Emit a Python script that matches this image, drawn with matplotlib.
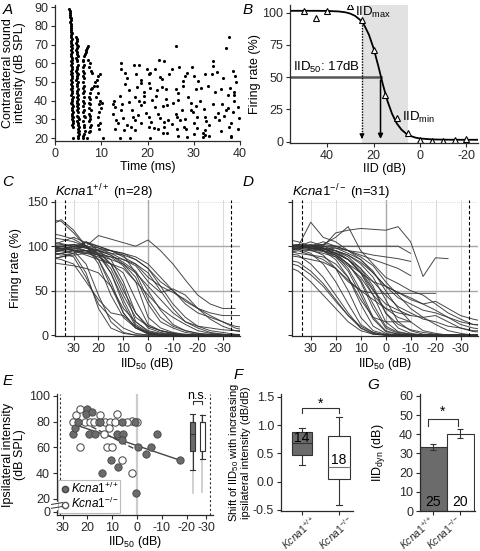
import numpy as np
import matplotlib
matplotlib.use("Agg")
import matplotlib.pyplot as plt
from matplotlib.lines import Line2D
from matplotlib.ticker import FormatStrFormatter
from matplotlib.transforms import ScaledTranslation

plt.rcParams['font.family'] = ['Liberation Sans', 'DejaVu Sans']
plt.rcParams['mathtext.fontset'] = 'custom'
plt.rcParams['mathtext.rm'] = 'Liberation Sans'
plt.rcParams['mathtext.it'] = 'Liberation Sans:italic'
plt.rcParams['font.size'] = 9
plt.rcParams['axes.unicode_minus'] = False
plt.rcParams['axes.linewidth'] = 0.9
plt.rcParams['axes.edgecolor'] = '#2a2a2a'
plt.rcParams['xtick.color'] = '#2a2a2a'
plt.rcParams['ytick.color'] = '#2a2a2a'
plt.rcParams['xtick.major.size'] = 3
plt.rcParams['ytick.major.size'] = 3
plt.rcParams['xtick.major.pad'] = 2
plt.rcParams['ytick.major.pad'] = 2

# ---------------- data ----------------
# A: raster (time ms, contralateral dB SPL)
spikes_col1 = [(3.1, 89), (3.2, 88), (3.2, 87), (3.3, 86), (3.3, 85), (3.4, 84), (3.4, 83), (3.3, 82), (3.5, 81), (3.4, 80),
               (3.5, 79), (3.5, 78), (3.4, 77), (3.6, 76), (3.5, 75), (3.5, 74), (3.6, 73), (3.4, 72), (3.5, 71), (3.6, 70),
               (3.5, 69), (3.7, 68), (3.5, 67), (3.6, 66), (3.4, 65), (3.5, 64), (3.6, 63), (3.7, 62), (3.5, 61), (3.6, 60),
               (3.4, 59), (3.6, 58), (3.7, 57), (3.5, 56), (3.6, 55), (3.5, 54), (3.7, 53), (3.6, 52), (3.4, 51), (3.6, 50),
               (3.5, 49), (3.7, 48), (3.6, 47), (3.5, 46), (3.7, 45), (3.6, 44), (3.5, 43), (3.8, 42), (3.6, 41), (3.7, 40),
               (3.5, 39), (3.6, 38), (3.8, 37), (3.7, 36), (3.6, 35), (3.8, 34), (3.7, 33), (3.6, 32), (3.8, 31), (3.7, 30),
               (3.9, 29), (3.8, 28), (3.7, 27), (3.9, 26), (3.9, 20)]
spikes_col2 = [(4.6, 74), (4.7, 73), (4.8, 72), (4.6, 71), (4.7, 70), (4.9, 69), (4.7, 68), (4.6, 67), (4.8, 66), (4.7, 65),
               (4.9, 64), (4.6, 63), (4.8, 62), (4.7, 61), (4.9, 59), (4.7, 58), (4.8, 57), (4.6, 56), (4.8, 55), (4.9, 54),
               (4.7, 53), (4.8, 52), (4.6, 51), (4.9, 50), (4.7, 49), (4.8, 48), (4.9, 46), (4.7, 45), (4.8, 44), (5.0, 43),
               (4.7, 42), (4.9, 41), (4.8, 40), (4.7, 39), (5.0, 38), (4.8, 37), (4.9, 36), (4.7, 35), (5.0, 34), (4.8, 32),
               (4.9, 31), (5.1, 30), (4.8, 29), (5.0, 28), (4.9, 27), (5.1, 26), (4.9, 25), (5.2, 24), (5.0, 23), (5.1, 22),
               (5.0, 21), (5.0, 20)]
spikes_col3 = [(7.2, 69), (7.0, 68), (6.8, 67), (6.6, 66), (6.4, 65), (6.2, 64), (6.1, 62), (6.0, 61), (6.2, 59), (6.0, 58),
               (6.1, 56), (6.3, 55), (6.0, 53), (6.2, 52), (6.1, 50), (6.3, 48), (6.0, 47), (6.2, 45), (6.1, 44), (6.3, 42),
               (6.0, 40), (6.2, 39), (6.1, 37), (6.3, 35), (6.0, 34), (6.2, 32), (6.4, 31), (6.1, 29), (6.3, 27), (6.2, 26),
               (6.4, 24), (6.2, 22), (6.1, 21), (6.1, 20)]
spikes_col4 = [(9.7, 54), (9.4, 53), (9.0, 51), (8.6, 50), (8.4, 48), (8.0, 47), (7.7, 46), (7.5, 44), (7.4, 42), (7.6, 41),
               (7.3, 39), (7.5, 38), (7.4, 36), (7.7, 35), (7.3, 33), (7.5, 32), (7.6, 30), (7.4, 29), (7.7, 27), (7.5, 26),
               (7.6, 24), (7.4, 23), (7.0, 20), (7.5, 60), (7.3, 58), (7.7, 56), (8.1, 55), (7.2, 62)]
spikes_col5 = [(9.8, 40), (10.2, 39), (9.6, 38), (10.0, 36), (9.5, 34), (9.3, 31), (9.8, 28), (9.2, 27), (9.5, 25),
               (10.4, 20), (9.0, 48), (9.3, 44), (8.8, 42)]
spikes_late = [(37.7, 74), (26.1, 69), (36.9, 68), (22.5, 62), (23.6, 61), (14.2, 60), (17.1, 59), (18.2, 59), (34.1, 61), (34.1, 58.5),
               (21.6, 57), (29.7, 58), (26.8, 58), (14.2, 57), (38.5, 56), (20.5, 55), (20.4, 54), (24.7, 54.5), (32.4, 54), (33.9, 54),
               (17.5, 54), (15.5, 52), (28.1, 53), (30.0, 53), (36.3, 52), (38.9, 53), (18.7, 51), (18.7, 49.5), (27.7, 50.5), (27.7, 48),
               (23.1, 51.5), (23.1, 47.5), (20.3, 49.5), (20.6, 47), (39.2, 50), (15.1, 49), (16.0, 45.5), (26.2, 46.5), (24.1, 46.5), (30.4, 46),
               (31.6, 47), (34.6, 44.5), (37.3, 43), (38.8, 44.5), (19.3, 44.5), (19.3, 42.5), (22.0, 45.5), (26.7, 44), (26.7, 40.5), (17.3, 42),
               (18.2, 40), (19.3, 39.5), (21.0, 40.5), (29.5, 38.5), (30.5, 37), (31.4, 40), (34.2, 38), (36.0, 38), (38.7, 40), (38.7, 43),
               (37.3, 36), (16.0, 39.5), (14.4, 38), (18.5, 37.5), (21.6, 36.5), (23.4, 37), (24.3, 37.5), (27.4, 35), (29.3, 35), (32.3, 35.5),
               (35.2, 33.5), (37.0, 35), (14.3, 35), (16.6, 35), (19.6, 33.5), (20.3, 31), (22.3, 33), (26.2, 33), (26.4, 31.5), (29.9, 34),
               (30.6, 31), (34.6, 31), (36.6, 32), (38.4, 34), (13.2, 29.5), (14.8, 30.5), (17.3, 29.5), (18.5, 28), (20.8, 28.5), (23.6, 28.5),
               (24.4, 29.5), (27.0, 29.5), (28.0, 30), (30.1, 28), (32.4, 31), (32.6, 29), (33.4, 27), (35.5, 29.5), (38.0, 28), (13.7, 28),
               (15.5, 27), (16.5, 26), (20.3, 26), (21.5, 25.5), (23.6, 26), (26.4, 25), (27.8, 26), (28.4, 25), (32.4, 24.5), (37.6, 26),
               (15.0, 24.5), (17.4, 24.5), (22.2, 25), (24.2, 22.5), (30.6, 25.5), (32.1, 22.5), (33.2, 21), (38.0, 21), (38.0, 20.5), (14.1, 20),
               (16.2, 20), (20.5, 20), (23.3, 22.5), (26.7, 21), (28.6, 20.5), (31.9, 20.5), (32.5, 21.5), (39.6, 25), (12.8, 40), (13.0, 36.5),
               (13.0, 25), (12.5, 33), (12.6, 38), (25.5, 39), (28.8, 42), (33.0, 48), (35.8, 46), (24.0, 41), (21.8, 42.5), (17.8, 47.5),
               (15.2, 55), (19.8, 57), (22.8, 52.5), (25.2, 57), (28.5, 55), (31.0, 50.5), (35.0, 55.5), (37.8, 47), (39.5, 36.5), (39.8, 30.5),
               (35.8, 24), (30.0, 22), (25.3, 27.5), (22.6, 30.5), (18.0, 32.5), (16.8, 31.5), (14.0, 42.5)]

# B: example rate-IID function
b_iid = [50, 45, 40, 30, 25, 20, 15, 10, 5, 0, -5, -10, -15, -20]
b_rate = [101, 96, 101, 105, 94, 71, 36, 18, 7, 1, 0.5, 0.5, 1.5, 2]
b_fit_iid = [56, 50, 45, 40, 35, 32, 30, 28, 26, 24, 22, 20, 18, 16, 14, 12, 10, 8, 6, 4, 2, 0, -5, -10, -15, -20, -25]
b_fit_rate = [101.5, 101.5, 101.5, 101.4, 101.0, 100.3, 99.3, 97.6, 94.8, 90.3, 83.0, 72.5, 59.0, 44.5, 31.5, 21.5,
              14.2, 9.4, 6.3, 4.4, 3.2, 2.5, 1.8, 1.6, 1.5, 1.5, 1.5]
b_iid50 = 17
b_iid_max = 25
b_iid_min = 5

# C / D: normalised rate-IID functions
nan = np.nan
iid_grid = [40, 35, 30, 25, 20, 15, 10, 5, 0, -5, -10, -15, -20, -25, -30, -35, -40]
wt_curves = [
    [100, 97, 95, 80, 45, 15, 3, 0, 0, 0, 0, 0, 0, 0, 0, 0, 0],
    [95, 95, 92, 70, 30, 8, 2, 0, 0, 0, 0, 0, 0, 0, 0, 0, 0],
    [90, 92, 88, 65, 35, 20, 8, 2, 0, 0, 0, 0, 0, 0, 0, 0, 0],
    [88, 85, 80, 60, 40, 25, 22, 10, 2, 0, 0, 0, 0, 0, 0, 0, 0],
    [130, 128, 115, 100, 85, 55, 25, 8, 2, 0, 0, 0, 0, 0, 0, 0, 0],
    [122, 130, 118, 100, 92, 70, 40, 12, 3, 0, 0, 0, 0, 0, 0, 0, 0],
    [100, 100, 98, 95, 90, 70, 35, 10, 2, 0, 0, 0, 0, 0, 0, 0, 0],
    [98, 97, 100, 95, 85, 60, 25, 8, 1, 0, 0, 0, 0, 0, 0, 0, 0],
    [95, 100, 102, 98, 92, 80, 55, 15, 4, 1, 0, 0, 0, 0, 0, 0, 0],
    [92, 95, 97, 100, 95, 85, 60, 25, 8, 3, 1, 0, 0, 0, 0, 0, 0],
    [105, 103, 100, 100, 90, 75, 45, 20, 10, 5, 2, 0, 0, 0, 0, 0, 0],
    [90, 92, 95, 92, 88, 80, 70, 40, 12, 5, 2, 0, 0, 0, 0, 0, 0],
    [100, 98, 95, 95, 92, 88, 78, 60, 20, 8, 3, 1, 0, 0, 0, 0, 0],
    [85, 88, 92, 95, 95, 90, 80, 65, 35, 15, 8, 3, 1, 0, 0, 0, 0],
    [100, 102, 100, 98, 95, 90, 82, 72, 50, 28, 12, 5, 2, 1, 0, 0, 0],
    [110, 108, 105, 100, 98, 95, 88, 80, 70, 50, 30, 15, 8, 3, 1, 0, 0],
    [95, 96, 98, 105, 100, 95, 92, 88, 80, 65, 50, 35, 25, 20, 15, 8, 5],
    [100, 100, 102, 100, 112, 108, 104, 100, 107, 95, 80, 62, 45, 35, 30, 30, nan],
    [95, 97, 100, 98, 96, 95, 92, 85, 75, 60, 50, 38, 30, 25, 22, 22, 22],
    [90, 92, 95, 93, 90, 88, 85, 80, 65, 55, 48, 40, 30, 22, 15, 10, 8],
    [85, 88, 90, 92, 95, 92, 90, 85, 75, 55, 35, 20, 10, 5, 3, 1, 0],
    [92, 95, 100, 104, 98, 92, 85, 78, 60, 48, 52, 45, 30, 18, 10, 5, 2],
    [98, 100, 95, 90, 85, 80, 75, 60, 45, 30, 20, 12, 5, 2, 1, 0, 0],
    [82, 80, 78, 75, 70, 55, 30, 15, 5, 2, 1, 0, 0, 0, 0, 0, 0],
    [115, 112, 108, 100, 80, 45, 20, 8, 3, 1, 0, 0, 0, 0, 0, 0, 0],
    [100, 105, 110, 104, 100, 95, 90, 70, 40, 20, 10, 5, 2, 0, 0, 0, 0],
    [97, 98, 96, 95, 90, 85, 80, 70, 55, 40, 25, 15, 10, 8, 6, 5, 5],
    [93, 90, 92, 105, 95, 80, 50, 25, 10, 5, 2, 0, 0, 0, 0, 0, 0],
]
ko_curves = [
    [92, 90, 80, 65, 45, 25, 8, 1, 0, 0, 0, 0, 0, 0, 0, 0, 0],
    [85, 82, 72, 58, 40, 22, 8, 2, 0, 0, 0, 0, 0, 0, 0, 0, 0],
    [100, 97, 92, 80, 60, 35, 12, 3, 0, 0, 0, 0, 0, 0, 0, 0, 0],
    [98, 98, 96, 90, 75, 50, 20, 5, 1, 0, 0, 0, 0, 0, 0, 0, 0],
    [100, 100, 98, 95, 85, 65, 35, 10, 2, 0, 0, 0, 0, 0, 0, 0, 0],
    [97, 98, 100, 98, 90, 75, 50, 20, 5, 1, 0, 0, 0, 0, 0, 0, 0],
    [100, 102, 100, 98, 92, 80, 60, 30, 8, 2, 0, 0, 0, 0, 0, 0, 0],
    [95, 97, 100, 100, 95, 85, 70, 45, 15, 4, 1, 0, 0, 0, 0, 0, 0],
    [100, 100, 98, 97, 95, 88, 75, 55, 25, 8, 2, 0, 0, 0, 0, 0, 0],
    [103, 100, 100, 98, 95, 90, 80, 65, 40, 15, 5, 1, 0, 0, 0, 0, 0],
    [98, 100, 102, 100, 98, 92, 85, 72, 50, 30, 15, 5, 2, 0, 0, 0, 0],
    [95, 98, 100, 102, 100, 95, 88, 78, 60, 45, 30, 20, 12, 5, 2, 0, 0],
    [100, 100, 127, 110, 105, 95, 85, 70, 55, 48, 40, 35, 28, 20, 12, 8, 6],
    [108, 105, 100, 102, 110, 122, 95, 80, 65, 58, 50, 45, 35, 25, 18, 12, 10],
    [100, 100, 105, 100, 115, 118, 120, 119, 118, 122, 105, 66, 87, 86, nan, nan, nan],
    [100, 100, 100, 100, 100, 100, 100, 100, 100, 100, 92, nan, nan, nan, nan, nan, nan],
    [95, 97, 100, 105, 100, 95, 90, 85, 80, 75, 67, nan, nan, nan, nan, nan, nan],
    [98, 100, 98, 96, 98, 95, 93, 90, 88, 86, 83, nan, nan, nan, nan, nan, nan],
    [90, 88, 85, 82, 75, 62, 50, 40, 30, 25, 22, nan, nan, nan, nan, nan, nan],
    [92, 95, 90, 88, 80, 65, 40, 20, 15, 15, 15, nan, nan, nan, nan, nan, nan],
    [95, 92, 90, 85, 75, 60, 50, 47, 47, 47, 47, 47, 47, nan, nan, nan, nan],
    [100, 100, 98, 95, 90, 80, 70, 60, 55, 48, 42, 35, 38, 30, 22, 18, 15],
    [96, 98, 100, 98, 95, 90, 82, 70, 55, 42, 35, 28, 25, 20, 15, 12, 12],
    [99, 100, 97, 95, 92, 85, 75, 60, 45, 32, 25, 18, 15, 10, 8, 5, 5],
    [82, 78, 68, 55, 38, 22, 10, 3, 0, 0, 0, 0, 0, 0, 0, 0, 0],
    [78, 72, 60, 45, 30, 15, 5, 1, 0, 0, 0, 0, 0, 0, 0, 0, 0],
    [100, 99, 98, 95, 88, 72, 45, 18, 4, 1, 0, 0, 0, 0, 0, 0, 0],
    [97, 98, 96, 94, 90, 80, 62, 35, 10, 3, 1, 0, 0, 0, 0, 0, 0],
    [100, 102, 100, 97, 92, 85, 72, 52, 25, 12, 6, 3, 1, 0, 0, 0, 0],
    [95, 96, 95, 92, 88, 78, 65, 45, 30, 20, 15, nan, nan, nan, nan, nan, nan],
    [98, 100, 99, 97, 93, 85, 70, 50, 35, 28, 22, 20, 22, 15, 8, 4, 3],
]

# E: IID50 vs ipsilateral intensity
e_wt_iid = [26, 25, 24, 20, 20.5, 18, 19.5, 17, 15, 14, 10.5, 7.5, 8, 6, 5.5, 6, 1, 0.5, -0.5, -3.5, -5.5, -8, -17.5]
e_wt_int = [70, 75, 80, 90, 86, 87, 70, 70, 80, 40, 50, 45, 70, 80, 70, 66, 80, 25, 60, 55, 60, 70, 50]
e_ko_iid = [26, 24.5, 23, 23, 21, 19, 17.5, 15.5, 15, 13, 11, 9, 8, 11.5, 13.5, 12, 10, 6, 2, 2, 0, 4]
e_ko_int = [80, 85, 90, 60, 80, 80, 80, 80, 85, 80, 80, 80, 85.5, 75, 70, 60, 60, 50, 40, 80.5, 80, 80]
e_wt_fit_x = [25.7, -17.4]
e_wt_fit_y = [78, 50]
e_ko_fit_x = [24.4, 1.5]
e_ko_fit_y = [82, 59.3]
e_box_q1 = [57, 57]
e_box_med = [70, 79.5]
e_box_q3 = [80, 80]
e_box_lo = [42.5, 50.7]
e_box_hi = [85.6, 85]
e_range_lo = [24.5, 25.5]

# F: shift of IID50 (dB/dB)
f_q1 = [0.477, 0.05]
f_med = [0.69, 0.26]
f_q3 = [0.886, 0.80]
f_lo = [0.30, -0.42]
f_hi = [0.945, 1.14]
f_n = [14, 18]

# G: dynamic range
g_mean = [33.4, 40.3]
g_sem = [1.7, 2.2]
g_n = [25, 20]

genotypes = [r'$\mathit{Kcna1}^{+/+}$', r'$\mathit{Kcna1}^{-/-}$']

dark = '#6b6b6b'

fig = plt.figure(figsize=(4.8, 5.51), dpi=100)


def ax_at(l, t, r, b):
    return fig.add_axes([l / 480, 1 - b / 551, (r - l) / 480, (b - t) / 551])


def clean(ax):
    ax.spines['top'].set_visible(False)
    ax.spines['right'].set_visible(False)


# ---------------- A ----------------
axA = ax_at(55, 5, 240, 141)
clean(axA)
all_spikes = spikes_col1 + spikes_col2 + spikes_col3 + spikes_col4 + spikes_col5 + spikes_late
t_sp, db_sp = zip(*all_spikes)
axA.scatter(t_sp, db_sp, s=5, color='black', linewidths=0)
axA.set_xlim(0, 40)
axA.set_ylim(18.4, 91.2)
axA.set_xticks([0, 10, 20, 30, 40])
axA.set_yticks([20, 30, 40, 50, 60, 70, 80, 90])
axA.set_xlabel('Time (ms)', labelpad=1)
axA.set_ylabel('Contralateral sound\nintensity (dB SPL)', labelpad=6, linespacing=1.0)

# ---------------- B ----------------
axB = ax_at(290, 5, 478, 143)
clean(axB)
axB.axvspan(b_iid_max, b_iid_min, color='#e2e2e2', lw=0)
axB.plot([56, b_iid50], [50, 50], color='#555555', lw=1.8)
axB.plot(b_fit_iid, b_fit_rate, color='black', lw=1.3)
axB.plot([b_iid_max, b_iid_max], [93, 5], color='black', lw=1.0, ls=(0, (1, 1)))
axB.annotate('', xy=(b_iid_max, 0), xytext=(b_iid_max, 6),
             arrowprops=dict(arrowstyle='-|>', color='black', lw=0.8, mutation_scale=7))
axB.annotate('', xy=(b_iid50, 0), xytext=(b_iid50, 50),
             arrowprops=dict(arrowstyle='-|>', color='black', lw=1.1, mutation_scale=7))
axB.plot(b_iid, b_rate, ls='none', marker='^', ms=4.5, mfc='white', mec='black', mew=0.8)
axB.text(54.5, 51.5, r'IID$_{50}$: 17dB', fontsize=9.5, ha='left', va='bottom')
axB.text(28.0, 100.5, r'IID$_{\rm max}$', fontsize=9.5, ha='left', va='center')
axB.text(7.6, 19, r'IID$_{\rm min}$', fontsize=9.5, ha='left', va='center')
axB.set_xlim(56, -25)
axB.set_ylim(-1, 106)
axB.set_xticks([40, 20, 0, -20])
axB.set_yticks([0, 25, 50, 75, 100])
axB.set_xlabel('IID (dB)', labelpad=1)
axB.set_ylabel('Firing rate (%)', labelpad=1)


# ---------------- C / D ----------------
def rate_panel(ax, curves, show_ylabels):
    clean(ax)
    for xv in [30, 20, 10, -10, -20, -30]:
        ax.axvline(xv, color='#dcdcdc', lw=0.8, zorder=0)
    ax.axvline(0, color='#a8a8a8', lw=1.0, zorder=0)
    for yv in [50, 100]:
        ax.axhline(yv, color='#a8a8a8', lw=1.0, zorder=0)
    ax.axhline(150, color='#d0d0d0', lw=0.6, ls=(0, (1, 1.5)), zorder=0)
    for xv in [33.5, -33.5]:
        ax.axvline(xv, color='black', lw=0.8, ls=(0, (3, 2)), zorder=3)
    for c in curves:
        ax.plot(iid_grid, c, color='#333333', lw=0.7, alpha=0.9)
    ax.set_xlim(37.5, -37)
    ax.set_ylim(-1, 152)
    ax.set_xticks([30, 20, 10, 0, -10, -20, -30])
    ax.set_yticks([0, 50, 100, 150])
    if not show_ylabels:
        ax.set_yticklabels([])
    ax.set_xlabel(r'IID$_{50}$ (dB)', labelpad=1)


axC = ax_at(55, 200, 240, 336)
rate_panel(axC, wt_curves, True)
axC.set_ylabel('Firing rate (%)', labelpad=4)
axC.text(0.0, 1.06, genotypes[0] + ' (n=28)', transform=axC.transAxes, ha='left', va='center', fontsize=9.5)

axD = ax_at(292, 200, 478, 336)
rate_panel(axD, ko_curves, False)
axD.text(0.0, 1.06, genotypes[1] + ' (n=31)', transform=axD.transAxes, ha='left', va='center', fontsize=9.5)

# ---------------- E ----------------
axE = ax_at(57, 394, 213, 515)
clean(axE)
axE.axvline(0, color='#cccccc', lw=1.6, zorder=0)
for xv in [31.0, -29.5]:
    axE.axvline(xv, color='#333333', lw=0.8, ls=(0, (2, 2)), zorder=0)
for pos, lo in zip([-22.6, -26.3], e_range_lo):
    axE.plot([pos, pos], [lo, 85], color='#c8c8c8', lw=1.2, zorder=1)
axE.plot(e_wt_fit_x, e_wt_fit_y, color='#444444', lw=1.0, zorder=2)
axE.plot(e_ko_fit_x, e_ko_fit_y, color='#444444', lw=1.0, ls=(0, (4, 2)), zorder=2)
axE.scatter(e_ko_iid, e_ko_int, s=28, facecolor='white', edgecolor='#555555', linewidths=0.8, zorder=3)
axE.scatter(e_wt_iid, e_wt_int, s=28, facecolor=dark, edgecolor='#444444', linewidths=0.6, zorder=4)
e_stats = []
for i in range(2):
    e_stats.append(dict(med=e_box_med[i], q1=e_box_q1[i], q3=e_box_q3[i],
                        whislo=e_box_lo[i], whishi=e_box_hi[i], fliers=[]))
bpE = axE.bxp(e_stats, positions=[-22.6, -26.3], widths=2.0, patch_artist=True,
              manage_ticks=False, capwidths=2.0,
              boxprops=dict(edgecolor='#333333', lw=0.8),
              whiskerprops=dict(color='#333333', lw=0.8),
              capprops=dict(color='#333333', lw=0.8),
              medianprops=dict(color='#333333', lw=0.8))
bpE['boxes'][0].set_facecolor(dark)
bpE['boxes'][1].set_facecolor('white')
axE.plot([-22.6, -22.6, -26.3, -26.3], [93.5, 95.5, 95.5, 93.5], color='#333333', lw=0.8)
axE.text(-24.45, 99.5, 'n.s.', ha='center', va='center', fontsize=9)
axE.set_xlim(32.3, -30.7)
axE.set_ylim(7.6, 101.3)
axE.set_xticks([30, 20, 10, 0, -10, -20, -28])
axE.set_xticklabels(['30', '20', '10', '0', '-10', '-20', '-30'])
axE.set_yticks([10, 20, 40, 60, 80, 100])
axE.set_yticklabels(['0', '20', '40', '60', '80', '100'])
# axis break
brk = axE.get_yaxis_transform()
axE.plot([0, 0], [13.3, 16.7], transform=brk, color='white', lw=2.5, clip_on=False, zorder=5)
axE.plot([-0.035, 0.035], [12.8, 14.2], transform=brk, color='#333333', lw=0.7, clip_on=False, zorder=6)
axE.plot([-0.035, 0.035], [15.8, 17.2], transform=brk, color='#333333', lw=0.7, clip_on=False, zorder=6)
axE.set_xlabel(r'IID$_{50}$ (dB)', labelpad=0)
axE.set_ylabel('Ipsilateral intensity\n(dB SPL)', labelpad=2, linespacing=1.0)
legE = axE.legend(handles=[Line2D([], [], ls='none', marker='o', ms=4.5, mfc=dark, mec='#444444'),
                           Line2D([], [], ls='none', marker='o', ms=4.5, mfc='white', mec='#555555')],
                  labels=genotypes, loc='lower left', bbox_to_anchor=(0.005, 0.02), fontsize=8.5,
                  frameon=True, fancybox=False, edgecolor='#bbbbbb', framealpha=1,
                  borderpad=0.1, handletextpad=0.0, labelspacing=0.0, handlelength=1.0,
                  borderaxespad=0.0, handleheight=0.5)
legE.get_frame().set_linewidth(0.8)

# ---------------- F ----------------
axF = ax_at(281, 394, 353, 511)
clean(axF)
f_stats = []
for i in range(2):
    f_stats.append(dict(med=f_med[i], q1=f_q1[i], q3=f_q3[i], whislo=f_lo[i], whishi=f_hi[i], fliers=[]))
bpF = axF.bxp(f_stats, positions=[1, 2], widths=[0.52, 0.62], patch_artist=True,
              capwidths=[0.15, 0.15],
              boxprops=dict(edgecolor='#333333', lw=0.8),
              whiskerprops=dict(color='#333333', lw=0.8),
              capprops=dict(color='#333333', lw=0.8),
              medianprops=dict(color='#333333', lw=0.8))
bpF['boxes'][0].set_facecolor(dark)
bpF['boxes'][1].set_facecolor('white')
bpF['medians'][1].set_color('#777777')
axF.text(1, 0.77, str(f_n[0]), ha='center', va='center', fontsize=10)
axF.text(2, 0.39, str(f_n[1]), ha='center', va='center', fontsize=10)
axF.plot([1, 1, 2, 2], [1.21, 1.30, 1.30, 1.21], color='#333333', lw=0.8)
axF.text(1.5, 1.37, '*', ha='center', va='center', fontsize=10)
axF.set_xlim(0.43, 2.38)
axF.set_ylim(-0.52, 1.55)
axF.set_yticks([-0.5, 0.0, 0.5, 1.0, 1.5])
axF.yaxis.set_major_formatter(FormatStrFormatter('%.1f'))
axF.set_xticks([1, 2])
axF.set_xticklabels(genotypes, rotation=42, ha='right', va='center', rotation_mode='anchor', fontsize=7.5)
axF.tick_params(axis='x', pad=2.5)
shift = ScaledTranslation(13 / 100, 0, fig.dpi_scale_trans)
for lbl in axF.get_xticklabels():
    lbl.set_transform(lbl.get_transform() + shift)
axF.set_ylabel('Shift of IID$_{50}$ with increasing\nipsilateral intensity (dB/dB)', labelpad=1,
               linespacing=1.0, fontsize=8)

# ---------------- G ----------------
axG = ax_at(420, 394, 475, 511)
clean(axG)
axG.bar([0, 1], g_mean, width=1.0, color=[dark, 'white'], edgecolor='#333333', lw=0.8)
axG.errorbar([0, 1], g_mean, yerr=g_sem, fmt='none', ecolor='#333333', elinewidth=0.8, capsize=2.5, capthick=0.8)
for i in range(2):
    axG.text(i, 1.0, str(g_n[i]), ha='center', va='bottom', fontsize=10)
axG.plot([-0.2, -0.2, 0.9, 0.9], [44.5, 47.8, 47.8, 44.5], color='#333333', lw=0.8)
axG.text(0.35, 51.5, '*', ha='center', va='center', fontsize=10)
axG.set_xlim(-0.5, 1.55)
axG.set_ylim(0, 61)
axG.set_yticks([0, 10, 20, 30, 40, 50, 60])
axG.set_xticks([0, 1])
axG.set_xticklabels(genotypes, rotation=42, ha='right', va='center', rotation_mode='anchor', fontsize=7.5)
axG.tick_params(axis='x', pad=2.5)
axG.set_ylabel(r'IID$_{\rm dyn}$ (dB)', labelpad=9)

# ---------------- panel letters ----------------
for lab, x, y in [('A', 8, 10), ('B', 248, 10), ('C', 8, 182), ('D', 248, 182),
                  ('E', 8, 381), ('F', 238, 375), ('G', 373, 385)]:
    fig.text(x / 480, 1 - y / 551, lab, fontsize=11, style='italic', ha='center', va='center')

fig.savefig('out.png', dpi=100)
